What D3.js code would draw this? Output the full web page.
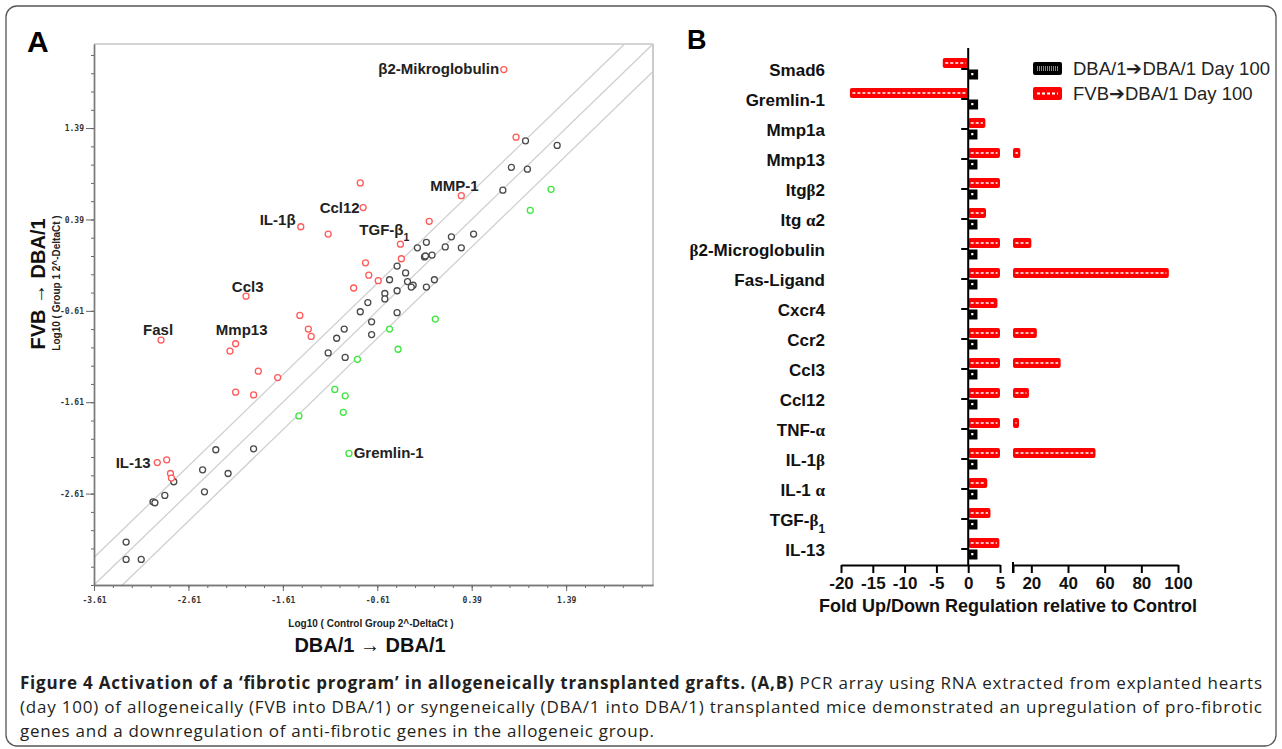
<!DOCTYPE html>
<html>
<head>
<meta charset="utf-8">
<script src="https://cdn.jsdelivr.net/npm/d3@7"></script>
<style>
body { margin: 0; background: #fff; }
</style>
</head>
<body>
<div id="fig"></div>
<script>
// ---- panel A : log10(2^-dCt), control (x) vs group 1 (y) ----
const upPts = [[0.73,2.03],[0.86,1.29],[-0.79,0.79],[-0.76,0.52],[0.28,0.65],[-0.06,0.37],[-1.42,0.31],
  [-1.13,0.23],[-0.365,0.12],[-0.355,-0.04],[-0.735,-0.085],[-0.70,-0.22],[-0.60,-0.28],[-0.86,-0.36],
  [-1.43,-0.66],[-2.0,-0.45],[-1.34,-0.81],[-1.31,-0.89],[-2.90,-0.93],[-2.11,-0.97],[-2.17,-1.05],
  [-1.87,-1.27],[-1.665,-1.34],[-2.11,-1.50],[-1.92,-1.53],[-2.94,-2.27],[-2.84,-2.24],[-2.80,-2.39],[-2.79,-2.44]];
const samePts = [[0.96,1.25],[1.295,1.20],[0.81,0.96],[0.98,0.94],[0.72,0.71],[0.41,0.23],[0.175,0.20],
  [0.11,0.09],[0.28,0.08],[-0.09,0.14],[-0.185,0.08],[-0.11,-0.02],[-0.10,-0.01],[-0.03,0.0],[-0.40,-0.12],
  [-0.31,-0.195],[-0.48,-0.27],[-0.29,-0.29],[-0.23,-0.33],[-0.25,-0.35],[-0.005,-0.27],[-0.09,-0.35],
  [-0.40,-0.39],[-0.53,-0.42],[-0.53,-0.48],[-0.71,-0.52],[-0.79,-0.62],[-0.40,-0.63],[-0.67,-0.73],
  [-0.96,-0.81],[-1.04,-0.91],[-0.67,-0.87],[-1.13,-1.07],[-0.95,-1.12],[-2.32,-2.13],[-1.92,-2.12],
  [-2.46,-2.35],[-2.19,-2.39],[-2.765,-2.48],[-2.44,-2.59],[-2.86,-2.63],[-2.985,-2.70],[-2.965,-2.71],
  [-3.27,-3.14],[-3.27,-3.33],[-3.11,-3.33]];
const downPts = [[1.23,0.72],[1.01,0.49],[0.005,-0.70],[-0.48,-0.81],[-0.39,-1.03],[-0.82,-1.14],
  [-1.06,-1.47],[-0.95,-1.54],[-0.97,-1.72],[-1.44,-1.76],[-0.91,-2.17]];
// gene name, anchor x, anchor y (data units), text-anchor
const geneNotes = [["β2-Mikroglobulin",0.68,1.98,"end"],["MMP-1",-0.05,0.70,"start"],["Ccl12",-1.22,0.46,"start"],
  ["TGF-β₁",-0.80,0.22,"start"],["IL-1β",-1.855,0.33,"start"],["Ccl3",-2.15,-0.40,"start"],
  ["Fasl",-3.09,-0.87,"start"],["Mmp13",-2.32,-0.87,"start"],["IL-13",-3.38,-2.33,"start"],
  ["Gremlin-1",-0.86,-2.22,"start"]];
const logTicks = [-3.61,-2.61,-1.61,-0.61,0.39,1.39];
const foldLines = [-0.301, 0, 0.301];

// ---- panel B : fold regulation relative to control ----
const genes = ["Smad6","Gremlin-1","Mmp1a","Mmp13","Itgβ2","Itg α2","β2-Microglobulin","Fas-Ligand","Cxcr4",
  "Ccr2","Ccl3","Ccl12","TNF-α","IL-1β","IL-1 α","TGF-β₁","IL-13"];
const fvbFold = [-4.0,-18.6,2.7,14,5.2,2.8,20,95,4.6,23,36,18.7,13.3,55,3.0,3.5,4.9];
const dbaFold = [1.4,1.4,1.3,1.3,1.3,1.3,1.3,1.3,1.3,1.3,1.3,1.3,1.3,1.3,1.3,1.3,1.3];
const lowTicks = [-20,-15,-10,-5,0,5];
const highTicks = [10,20,40,60,80,100];
const seriesNames = ["DBA/1\u2794DBA/1 Day 100","FVB\u2794DBA/1 Day 100"];

const W = 1282, H = 749;
const svg = d3.select("#fig").append("svg").attr("width", W).attr("height", H)
  .attr("font-family", "'Liberation Sans', Arial, sans-serif");

// figure frame
svg.append("rect").attr("x", 6).attr("y", 6).attr("width", 1270).attr("height", 740)
  .attr("rx", 11).attr("fill", "none").attr("stroke", "#555").attr("stroke-width", 1.3);

// writes a string into a text node; greek optionally in serif, ₁ as subscript
function rich(t, str, serifGreek) {
  (str.match(/[αβ]|₁|[^αβ₁]+/g) || []).forEach(p => {
    const s = t.append("tspan");
    if (p === "₁") s.text("1").attr("baseline-shift", "sub").attr("font-size", "70%");
    else {
      s.text(p);
      if (serifGreek && (p === "α" || p === "β"))
        s.attr("font-family", "'Liberation Serif', 'DejaVu Serif', serif");
    }
  });
}
const hyphen = f => d => f(d).replace("\u2212", "-");

// ================= panel A =================
const xA = d3.scaleLinear([-3.61, 2.31], [94, 653]);
const yA = d3.scaleLinear([-3.61, 2.31], [585, 44]);
const minor = d3.range(0, 30).map(i => -3.61 + i * 0.2);

const gA = svg.append("g");
gA.append("text").attr("x", 27).attr("y", 52).attr("font-size", 30).attr("font-weight", "bold").text("A");

// top / right frame
gA.append("path").attr("d", `M${xA.range()[0]},${yA.range()[1]}H${xA.range()[1]}V${yA.range()[0]}`)
  .attr("fill", "none").attr("stroke", "#aaa").attr("stroke-width", 1.2);

// fold-change guide lines
const [lo, hi] = xA.domain();
gA.selectAll("line.guide").data(foldLines).join("line").attr("class", "guide")
  .attr("x1", d => xA(Math.max(lo, lo - d))).attr("y1", d => yA(Math.max(lo, lo - d) + d))
  .attr("x2", d => xA(Math.min(hi, hi - d))).attr("y2", d => yA(Math.min(hi, hi - d) + d))
  .attr("stroke", "#cfcfcf").attr("stroke-width", 1.3);

function styleAxis(g) {
  g.select(".domain").attr("stroke", "#7a7a7a").attr("stroke-width", 1.4);
  g.selectAll(".tick line").attr("stroke", "#666").attr("stroke-width", 1);
  g.selectAll(".tick text").attr("font-family", "'DejaVu Sans Mono', monospace")
    .attr("font-size", 8).attr("font-weight", "bold").attr("fill", "#333");
}
const f2 = hyphen(d3.format(".2f"));
gA.append("g").attr("transform", "translate(0,585)")
  .call(d3.axisBottom(xA).tickValues(minor).tickSize(3).tickFormat("").tickSizeOuter(0)).call(styleAxis);
gA.append("g").attr("transform", "translate(0,585)")
  .call(d3.axisBottom(xA).tickValues(logTicks).tickSize(6).tickPadding(6).tickFormat(f2).tickSizeOuter(0))
  .call(styleAxis);
gA.append("g").attr("transform", "translate(94,0)")
  .call(d3.axisLeft(yA).tickValues(minor).tickSize(3).tickFormat("").tickSizeOuter(0)).call(styleAxis);
gA.append("g").attr("transform", "translate(94,0)")
  .call(d3.axisLeft(yA).tickValues(logTicks.slice(1)).tickSize(8).tickPadding(2).tickFormat(f2).tickSizeOuter(0))
  .call(styleAxis);

// points
[[samePts, "#4a4a4a"], [upPts, "#ff5a5a"], [downPts, "#3ee63e"]].forEach(([pts, col]) => {
  gA.append("g").selectAll("circle").data(pts).join("circle")
    .attr("cx", d => xA(d[0])).attr("cy", d => yA(d[1])).attr("r", 3)
    .attr("fill", "#fff").attr("stroke", col).attr("stroke-width", 1.3);
});

// gene annotations
geneNotes.forEach(([name, gx, gy, anchor]) => {
  const t = gA.append("text").attr("x", xA(gx)).attr("y", yA(gy)).attr("text-anchor", anchor)
    .attr("font-size", 15).attr("font-weight", "bold").attr("fill", "#222");
  rich(t, name, false);
});

// axis titles
gA.append("text").attr("transform", "translate(45,284) rotate(-90)").attr("text-anchor", "middle")
  .attr("font-size", 20).attr("font-weight", "bold").attr("fill", "#111").text("FVB \u2192 DBA/1");
gA.append("text").attr("transform", "translate(60,283) rotate(-90)").attr("text-anchor", "middle")
  .attr("font-size", 10).attr("font-weight", "bold").attr("fill", "#222").text("Log10 ( Group 1 2^-DeltaCt )");
gA.append("text").attr("x", 371).attr("y", 627).attr("text-anchor", "middle")
  .attr("font-size", 10).attr("font-weight", "bold").attr("fill", "#222").text("Log10 ( Control Group 2^-DeltaCt )");
gA.append("text").attr("x", 370).attr("y", 652).attr("text-anchor", "middle")
  .attr("font-size", 20).attr("font-weight", "bold").attr("fill", "#111").text("DBA/1 \u2192 DBA/1");

// ================= panel B =================
const xLow = d3.scaleLinear([-20, 5], [841, 1000]);
const xHigh = d3.scaleLinear([10, 100], [1013, 1178]);
const yB = d3.scalePoint(genes, [70, 550]);
const axisY = 565;

const gB = svg.append("g");
gB.append("text").attr("x", 687).attr("y", 49).attr("font-size", 27).attr("font-weight", "bold").text("B");

// category labels
genes.forEach(g => {
  const t = gB.append("text").attr("x", 825).attr("y", yB(g)).attr("dy", "0.35em").attr("text-anchor", "end")
    .attr("font-size", 17).attr("font-weight", "bold").attr("fill", "#111");
  rich(t, g, true);
});

// split a value into segments on the broken axis
function segments(v) {
  if (v < 0) return [[xLow(v), xLow(0)]];
  if (v <= 5) return [[xLow(0), xLow(v)]];
  const s = [[xLow(0), xLow(5)]];
  if (v > 10) s.push([xHigh(10), xHigh(v)]);
  return s;
}

// FVB bars (red, white dashed pattern)
genes.forEach((g, i) => {
  const c = yB(g);
  segments(fvbFold[i]).forEach(([a, b]) => {
    gB.append("rect").attr("x", a).attr("y", c - 12).attr("width", b - a).attr("height", 10)
      .attr("rx", 2).attr("fill", "#ff0000");
    if (b - a > 6)
      gB.append("line").attr("x1", a + 2.5).attr("x2", b - 2.5).attr("y1", c - 7).attr("y2", c - 7)
        .attr("stroke", "#fff").attr("stroke-width", 1.6).attr("stroke-dasharray", "3,2");
  });
  // DBA bars (black)
  const [a, b] = segments(dbaFold[i])[0];
  gB.append("rect").attr("x", a + 0.5).attr("y", c).attr("width", b - a).attr("height", 9)
    .attr("fill", "#000").attr("stroke", "#000").attr("stroke-width", 1);
  gB.append("rect").attr("x", a + 3).attr("y", c + 3).attr("width", 2.2).attr("height", 2.2).attr("fill", "#fff");
});

// y axis at zero with category ticks
gB.append("line").attr("x1", xLow(0)).attr("x2", xLow(0)).attr("y1", 48).attr("y2", axisY)
  .attr("stroke", "#000").attr("stroke-width", 2);
gB.selectAll("line.ytick").data(genes).join("line").attr("class", "ytick")
  .attr("x1", xLow(0) - 7).attr("x2", xLow(0)).attr("y1", d => yB(d) - 1).attr("y2", d => yB(d) - 1)
  .attr("stroke", "#000").attr("stroke-width", 2);

function styleB(g) {
  g.select(".domain").attr("stroke", "#000").attr("stroke-width", 2);
  g.selectAll(".tick line").attr("stroke", "#000").attr("stroke-width", 2);
  g.selectAll(".tick text").attr("font-family", "'Liberation Sans', Arial, sans-serif")
    .attr("font-size", 17).attr("font-weight", "bold").attr("fill", "#111");
}
gB.append("g").attr("transform", `translate(0,${axisY})`)
  .call(d3.axisBottom(xLow).tickValues(lowTicks).tickSize(8).tickSizeOuter(0).tickPadding(4)
    .tickFormat(d => String(d))).call(styleB);
gB.append("g").attr("transform", `translate(0,${axisY})`)
  .call(d3.axisBottom(xHigh).tickValues(highTicks).tickSize(8).tickSizeOuter(0).tickPadding(4)
    .tickFormat(d => d === 10 ? "" : String(d))).call(styleB);
gB.append("line").attr("x1", xHigh(10)).attr("x2", xHigh(10)).attr("y1", axisY - 3).attr("y2", axisY + 8)
  .attr("stroke", "#000").attr("stroke-width", 2);

gB.append("text").attr("x", 1008).attr("y", 612).attr("text-anchor", "middle")
  .attr("font-size", 18).attr("font-weight", "bold").attr("fill", "#111")
  .text("Fold Up/Down Regulation relative to Control");

// legend
seriesNames.forEach((name, i) => {
  const ly = 62 + i * 25;
  gB.append("rect").attr("x", 1033).attr("y", ly).attr("width", 29).attr("height", 13).attr("rx", 2)
    .attr("fill", i === 0 ? "#000" : "#ff0000");
  gB.append("line").attr("x1", 1037).attr("x2", 1058).attr("y1", ly + 6.5).attr("y2", ly + 6.5)
    .attr("stroke", i === 0 ? "#888" : "#fff").attr("stroke-width", i === 0 ? 5 : 2)
    .attr("stroke-dasharray", i === 0 ? "1,1" : "3,2");
  gB.append("text").attr("x", 1073).attr("y", ly + 6.5).attr("dy", "0.35em")
    .attr("font-size", 18.5).attr("fill", "#222").text(name);
});

// ================= caption =================
const cap = svg.append("g").attr("fill", "#231f20")
  .attr("font-family", "'Open Sans', 'Noto Sans', sans-serif").attr("font-size", 17);
const l1 = cap.append("text").attr("x", 20).attr("y", 689).attr("textLength", 1242).attr("lengthAdjust", "spacing");
l1.append("tspan").attr("font-weight", "bold")
  .text("Figure 4 Activation of a \u2018fibrotic program\u2019 in allogeneically transplanted grafts. (A,B)");
l1.append("tspan").text(" PCR array using RNA extracted from explanted hearts");
cap.append("text").attr("x", 20).attr("y", 713).attr("textLength", 1242).attr("lengthAdjust", "spacing")
  .text("(day 100) of allogeneically (FVB into DBA/1) or syngeneically (DBA/1 into DBA/1) transplanted mice demonstrated an upregulation of pro-fibrotic");
cap.append("text").attr("x", 20).attr("y", 737).attr("textLength", 634).attr("lengthAdjust", "spacing")
  .text("genes and a downregulation of anti-fibrotic genes in the allogeneic group.");
</script>
</body>
</html>
